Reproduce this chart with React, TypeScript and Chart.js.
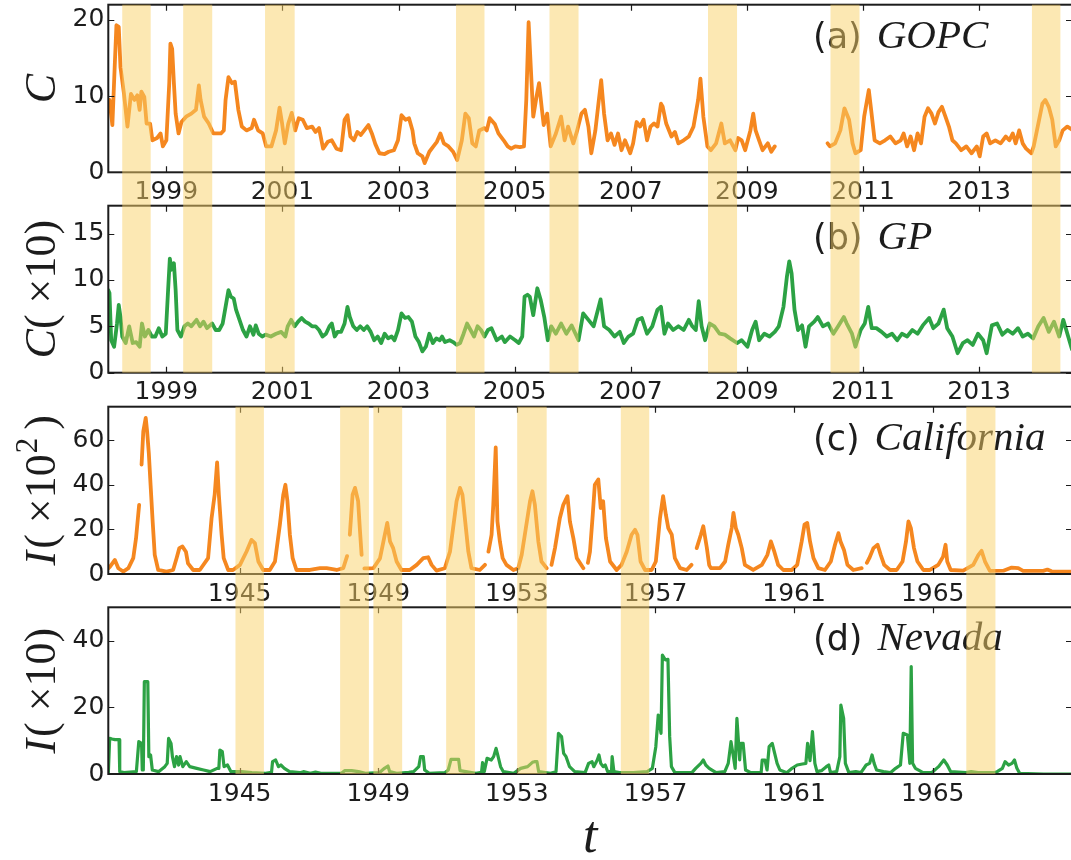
import React, { useEffect, useRef } from "react";
import { Chart, registerables } from "chart.js";

Chart.register(...registerables);

type Pt = [number, number | null];

// (a) GOPC  — C
const gopcSeries: Pt[] = [
  [1998.0, 8.5], [1998.02, 9.5], [1998.07, 6.2], [1998.11, 13.8], [1998.14, 19.3], [1998.18, 19.1], [1998.21, 13.8],
  [1998.27, 10.3], [1998.33, 6.0], [1998.39, 10.3], [1998.45, 9.5], [1998.5, 10.1], [1998.54, 8.2], [1998.57, 10.6],
  [1998.62, 9.9], [1998.66, 6.4], [1998.72, 6.4], [1998.76, 4.2], [1998.84, 4.5], [1998.9, 5.1], [1998.94, 3.4],
  [1999.0, 4.2], [1999.05, 11.7], [1999.07, 16.9], [1999.1, 16.2], [1999.13, 11.7], [1999.16, 7.7], [1999.21, 5.1],
  [1999.26, 6.6], [1999.34, 7.3], [1999.43, 7.7], [1999.51, 8.2], [1999.56, 11.4], [1999.59, 9.5], [1999.65, 7.3],
  [1999.73, 6.4], [1999.81, 5.1], [1999.94, 5.1], [1999.99, 5.5], [2000.02, 9.5], [2000.07, 12.5], [2000.13, 11.7],
  [2000.18, 11.9], [2000.24, 8.2], [2000.3, 6.0], [2000.38, 5.5], [2000.47, 5.8], [2000.51, 6.9], [2000.58, 5.5],
  [2000.66, 5.1], [2000.72, 3.4], [2000.81, 3.4], [2000.89, 5.5], [2000.95, 8.5], [2000.99, 6.6], [2001.04, 3.8],
  [2001.1, 6.4], [2001.16, 7.8], [2001.22, 5.5], [2001.28, 7.1], [2001.35, 6.9], [2001.42, 5.8], [2001.51, 6.0],
  [2001.57, 5.3], [2001.63, 5.8], [2001.7, 3.1], [2001.78, 4.0], [2001.85, 4.2], [2001.93, 3.1], [2002.01, 2.9],
  [2002.07, 6.9], [2002.12, 7.5], [2002.17, 4.7], [2002.23, 4.2], [2002.29, 5.3], [2002.35, 4.9], [2002.41, 5.5],
  [2002.48, 6.2], [2002.54, 5.1], [2002.6, 3.7], [2002.67, 2.5], [2002.76, 2.4], [2002.83, 2.7], [2002.92, 2.9],
  [2002.99, 4.2], [2003.05, 7.5], [2003.12, 6.9], [2003.18, 7.1], [2003.24, 5.5], [2003.27, 3.8], [2003.33, 2.5],
  [2003.41, 2.1], [2003.45, 1.2], [2003.53, 2.7], [2003.6, 3.4], [2003.66, 4.0], [2003.72, 5.1], [2003.78, 3.8],
  [2003.86, 3.4], [2003.94, 2.7], [2004.01, 1.6], [2004.09, 4.2], [2004.15, 7.7], [2004.21, 7.1], [2004.27, 3.8],
  [2004.33, 3.4], [2004.39, 5.5], [2004.48, 5.8], [2004.52, 5.5], [2004.57, 7.1], [2004.66, 6.3], [2004.72, 5.1],
  [2004.81, 4.2], [2004.88, 3.4], [2004.94, 3.1], [2005.01, 3.4], [2005.09, 3.3], [2005.16, 3.4], [2005.2, 9.5],
  [2005.24, 19.7], [2005.28, 13.4], [2005.32, 7.3], [2005.38, 10.1], [2005.42, 11.7], [2005.47, 8.2], [2005.5, 6.2],
  [2005.56, 7.7], [2005.62, 3.4], [2005.71, 5.1], [2005.8, 7.3], [2005.86, 4.2], [2005.92, 6.0], [2006.01, 3.8],
  [2006.07, 5.3], [2006.15, 7.7], [2006.21, 8.2], [2006.27, 6.0], [2006.32, 2.5], [2006.39, 5.5], [2006.45, 9.5],
  [2006.49, 12.1], [2006.54, 7.7], [2006.6, 4.2], [2006.66, 5.1], [2006.72, 3.6], [2006.78, 5.1], [2006.84, 2.9],
  [2006.9, 4.2], [2006.99, 2.5], [2007.04, 3.8], [2007.1, 6.6], [2007.16, 6.0], [2007.22, 6.9], [2007.28, 4.2],
  [2007.34, 6.0], [2007.4, 6.4], [2007.46, 6.0], [2007.52, 9.0], [2007.55, 8.6], [2007.61, 6.4], [2007.7, 4.7],
  [2007.76, 5.3], [2007.82, 3.8], [2007.91, 4.2], [2008.0, 4.7], [2008.08, 6.0], [2008.16, 9.5], [2008.2, 12.3],
  [2008.25, 7.3], [2008.32, 3.4], [2008.38, 2.9], [2008.47, 3.8], [2008.56, 6.4], [2008.62, 3.8], [2008.71, 4.2],
  [2008.8, 2.9], [2008.85, 4.5], [2008.91, 4.2], [2008.97, 2.9], [2009.06, 5.5], [2009.11, 7.7], [2009.15, 5.5],
  [2009.21, 4.2], [2009.27, 2.9], [2009.36, 3.8], [2009.42, 2.7], [2009.48, 3.4], [2009.9, null],
  [2010.39, 3.8], [2010.43, 3.4], [2010.52, 3.8], [2010.61, 5.5], [2010.68, 8.4], [2010.76, 6.9], [2010.82, 3.8],
  [2010.87, 2.5], [2010.96, 2.9], [2011.02, 7.3], [2011.1, 10.8], [2011.14, 8.2], [2011.2, 4.2], [2011.29, 3.8],
  [2011.38, 4.2], [2011.47, 4.7], [2011.56, 3.8], [2011.65, 4.2], [2011.7, 5.1], [2011.76, 3.4], [2011.82, 4.7],
  [2011.88, 2.9], [2011.94, 5.1], [2012.0, 3.8], [2012.06, 7.3], [2012.12, 8.4], [2012.18, 7.7], [2012.24, 6.4],
  [2012.3, 7.9], [2012.36, 8.6], [2012.42, 7.3], [2012.48, 6.0], [2012.54, 4.2], [2012.6, 3.8], [2012.69, 2.9],
  [2012.78, 3.4], [2012.87, 2.5], [2012.96, 3.4], [2013.01, 2.1], [2013.07, 4.7], [2013.13, 5.1], [2013.19, 3.8],
  [2013.28, 4.2], [2013.37, 3.8], [2013.46, 4.7], [2013.52, 4.2], [2013.58, 5.1], [2013.63, 3.8], [2013.69, 5.5],
  [2013.75, 3.8], [2013.81, 3.1], [2013.9, 2.5], [2013.94, 3.4], [2014.02, 6.4], [2014.09, 9.0], [2014.14, 9.5],
  [2014.2, 8.6], [2014.26, 6.9], [2014.32, 3.4], [2014.38, 4.2], [2014.44, 5.5], [2014.52, 6.0], [2014.6, 5.6],
];

// (b) GP — C (x10)
const gpSeries: Pt[] = [
  [1998.0, 8.9], [1998.02, 8.6], [1998.05, 3.5], [1998.1, 2.8], [1998.15, 5.3], [1998.18, 7.3], [1998.21, 6.0],
  [1998.24, 3.9], [1998.3, 3.2], [1998.36, 5.0], [1998.42, 3.2], [1998.48, 3.3], [1998.54, 2.8], [1998.58, 5.3],
  [1998.63, 3.9], [1998.69, 4.6], [1998.75, 3.9], [1998.81, 3.9], [1998.87, 4.8], [1998.93, 3.9], [1998.99, 4.2],
  [1999.03, 8.9], [1999.06, 12.3], [1999.09, 11.1], [1999.13, 11.8], [1999.16, 8.9], [1999.19, 4.6], [1999.25, 3.9],
  [1999.31, 5.0], [1999.37, 5.3], [1999.43, 5.0], [1999.52, 5.7], [1999.58, 5.0], [1999.64, 5.5], [1999.7, 4.8],
  [1999.79, 5.3], [1999.85, 4.6], [1999.91, 4.6], [1999.97, 5.3], [2000.02, 7.1], [2000.07, 8.9], [2000.11, 8.2],
  [2000.16, 8.0], [2000.2, 6.8], [2000.26, 5.7], [2000.32, 4.6], [2000.38, 3.9], [2000.44, 5.0], [2000.5, 4.1],
  [2000.54, 5.1], [2000.59, 4.2], [2000.65, 3.9], [2000.71, 4.1], [2000.8, 3.9], [2000.89, 4.2], [2000.98, 4.4],
  [2001.05, 3.9], [2001.09, 5.0], [2001.15, 5.7], [2001.21, 5.0], [2001.27, 5.5], [2001.33, 5.9], [2001.39, 5.5],
  [2001.45, 5.3], [2001.51, 5.0], [2001.57, 5.0], [2001.63, 4.6], [2001.69, 3.9], [2001.75, 4.2], [2001.81, 5.0],
  [2001.85, 5.3], [2001.9, 3.9], [2001.95, 4.4], [2002.01, 4.4], [2002.07, 5.3], [2002.12, 7.1], [2002.16, 6.0],
  [2002.22, 5.0], [2002.28, 4.6], [2002.34, 5.0], [2002.4, 4.6], [2002.46, 5.0], [2002.52, 4.4], [2002.58, 3.5],
  [2002.64, 3.9], [2002.7, 3.2], [2002.76, 4.2], [2002.82, 3.7], [2002.88, 3.9], [2002.93, 3.5], [2002.99, 4.6],
  [2003.05, 6.4], [2003.11, 5.9], [2003.17, 6.0], [2003.23, 5.5], [2003.29, 3.9], [2003.35, 3.3], [2003.41, 2.3],
  [2003.47, 2.8], [2003.53, 4.2], [2003.59, 3.2], [2003.65, 3.7], [2003.71, 3.5], [2003.75, 3.9], [2003.8, 3.3],
  [2003.88, 3.5], [2003.94, 3.3], [2004.0, 3.0], [2004.06, 3.2], [2004.12, 4.2], [2004.18, 5.3], [2004.24, 4.6],
  [2004.3, 3.9], [2004.36, 5.0], [2004.42, 4.6], [2004.48, 3.9], [2004.54, 4.6], [2004.6, 4.8], [2004.69, 3.5],
  [2004.78, 3.9], [2004.83, 3.3], [2004.92, 3.9], [2005.01, 3.5], [2005.07, 3.2], [2005.13, 3.9], [2005.17, 8.2],
  [2005.22, 8.4], [2005.26, 8.2], [2005.32, 6.2], [2005.39, 9.1], [2005.45, 7.8], [2005.51, 6.0], [2005.57, 3.5],
  [2005.63, 5.0], [2005.71, 4.2], [2005.8, 5.3], [2005.89, 4.2], [2005.98, 5.1], [2006.1, 3.5], [2006.18, 6.4],
  [2006.27, 5.7], [2006.36, 5.0], [2006.48, 7.9], [2006.54, 5.0], [2006.63, 4.6], [2006.72, 3.9], [2006.81, 4.4],
  [2006.88, 3.2], [2006.96, 3.9], [2007.04, 4.2], [2007.12, 5.7], [2007.19, 5.9], [2007.28, 4.2], [2007.37, 5.0],
  [2007.46, 6.8], [2007.52, 7.1], [2007.58, 4.2], [2007.64, 5.3], [2007.73, 4.6], [2007.82, 5.0], [2007.91, 4.6],
  [2008.0, 5.7], [2008.06, 5.0], [2008.12, 4.6], [2008.17, 7.7], [2008.22, 5.0], [2008.28, 3.5], [2008.36, 5.3],
  [2008.44, 5.0], [2008.53, 4.2], [2008.62, 4.1], [2008.71, 3.7], [2008.83, 3.2], [2008.91, 3.5], [2009.01, 2.8],
  [2009.09, 4.6], [2009.15, 5.5], [2009.21, 3.5], [2009.3, 4.2], [2009.39, 3.9], [2009.48, 4.4], [2009.55, 5.0],
  [2009.63, 7.1], [2009.69, 10.4], [2009.73, 12.0], [2009.77, 10.7], [2009.82, 6.8], [2009.88, 4.6], [2009.95, 5.1],
  [2010.01, 2.8], [2010.07, 5.0], [2010.16, 5.5], [2010.22, 6.0], [2010.31, 5.0], [2010.4, 5.3], [2010.49, 4.2],
  [2010.58, 5.1], [2010.67, 6.0], [2010.72, 5.3], [2010.81, 4.2], [2010.87, 2.8], [2010.96, 4.6], [2011.03, 5.3],
  [2011.09, 7.1], [2011.15, 4.8], [2011.23, 4.8], [2011.32, 4.4], [2011.41, 3.9], [2011.5, 4.2], [2011.59, 3.5],
  [2011.67, 4.2], [2011.76, 3.9], [2011.85, 4.6], [2011.94, 4.2], [2012.03, 5.1], [2012.14, 5.9], [2012.21, 4.8],
  [2012.3, 5.3], [2012.39, 6.8], [2012.45, 4.8], [2012.54, 3.9], [2012.63, 2.1], [2012.72, 3.2], [2012.8, 3.5],
  [2012.89, 3.0], [2012.98, 4.2], [2013.07, 3.5], [2013.13, 2.1], [2013.22, 5.1], [2013.31, 5.3], [2013.4, 4.1],
  [2013.49, 4.6], [2013.58, 4.2], [2013.67, 4.8], [2013.75, 3.9], [2013.84, 4.2], [2013.93, 3.7], [2014.02, 5.0],
  [2014.11, 5.9], [2014.2, 4.4], [2014.29, 5.5], [2014.38, 3.9], [2014.45, 5.7], [2014.52, 4.2], [2014.6, 2.5],
];

// (c) California — I (x10^2)
const californiaSeries: Pt[] = [
  [1941.21, 2.5], [1941.26, 3.3], [1941.4, 6.3], [1941.5, 2.6], [1941.64, 1.1], [1941.79, 2.6], [1941.93, 7.1],
  [1942.01, 16], [1942.1, 31], [1942.13, null], [1942.17, 49], [1942.22, 64], [1942.29, 70], [1942.33, 64],
  [1942.38, 54], [1942.43, 40], [1942.49, 23.6], [1942.55, 8.6], [1942.65, 1.8], [1942.89, 1.1], [1943.08, 1.8],
  [1943.18, 7.1], [1943.26, 11.6], [1943.35, 12.3], [1943.45, 10], [1943.51, 4.8], [1943.66, 1.8], [1943.85, 1.8],
  [1944.09, 7.1], [1944.19, 25], [1944.28, 35.6], [1944.35, 50], [1944.4, 35.6], [1944.48, 17.6], [1944.54, 7.1],
  [1944.67, 1.8], [1944.81, 1.8], [1945.01, 4.1], [1945.2, 10.1], [1945.34, 15.3], [1945.44, 13.8], [1945.54, 5.6],
  [1945.68, 1.8], [1945.87, 1.8], [1946.02, 5.6], [1946.16, 22], [1946.26, 35.6], [1946.32, 40], [1946.38, 32.6],
  [1946.45, 17.6], [1946.53, 7.1], [1946.64, 1.8], [1947.03, 1.8], [1947.32, 2.6], [1947.51, 2.6], [1947.8, 1.8],
  [1947.99, 2.6], [1948.1, 8], [1948.14, null], [1948.18, 17.6], [1948.26, 35.6], [1948.33, 38.6], [1948.42, 32.6],
  [1948.47, 20], [1948.52, 8.6], [1948.55, null], [1948.6, 2.5], [1948.76, 2.5], [1948.86, 2.6], [1949.05, 7],
  [1949.19, 17.6], [1949.26, 22.9], [1949.34, 14.6], [1949.43, 11.6], [1949.53, 5.6], [1949.67, 1.8], [1949.91, 1.8],
  [1950.11, 4.1], [1950.3, 7.1], [1950.44, 7.5], [1950.54, 4.1], [1950.68, 1.5], [1950.92, 2.6], [1951.07, 10],
  [1951.16, 20.6], [1951.26, 32.6], [1951.36, 38.6], [1951.43, 35.6], [1951.5, 25], [1951.6, 10], [1951.69, 2.6],
  [1951.93, 1.8], [1952.08, 4.1], [1952.12, null], [1952.18, 10], [1952.27, 17.6], [1952.32, 31], [1952.39, 56.7],
  [1952.44, 23.6], [1952.51, 14.6], [1952.59, 7.1], [1952.7, 4.1], [1952.9, 1.8], [1953.04, 2.6], [1953.14, 8.6],
  [1953.26, 20.6], [1953.38, 32.6], [1953.45, 37.1], [1953.52, 31], [1953.62, 14.6], [1953.71, 5.6], [1953.86, 2.6],
  [1953.92, null], [1954.0, 4.1], [1954.1, 11.6], [1954.24, 25], [1954.34, 31], [1954.46, 34.9], [1954.53, 23.6],
  [1954.63, 16.1], [1954.73, 7.1], [1954.92, 2.6], [1954.98, null], [1955.05, 5], [1955.11, 10], [1955.19, 26.6],
  [1955.25, 40], [1955.35, 42.4], [1955.42, 29.6], [1955.49, 32.6], [1955.57, 16.1], [1955.69, 5.6], [1955.88, 1.8],
  [1956.02, 4.1], [1956.17, 10], [1956.31, 17.6], [1956.41, 19.8], [1956.48, 17.6], [1956.57, 5.6], [1956.7, 1.8],
  [1956.89, 1.8], [1957.01, 5.6], [1957.13, 25], [1957.22, 34.9], [1957.3, 26.6], [1957.37, 20.6], [1957.47, 17.6],
  [1957.56, 7.1], [1957.71, 2.6], [1957.9, 1.8], [1958.04, 4.1], [1958.1, null], [1958.19, 11.6], [1958.31, 17.6],
  [1958.38, 21.4], [1958.48, 12], [1958.55, 4], [1958.6, 2.6], [1958.86, 2.6], [1959.01, 5.6], [1959.1, 13.1],
  [1959.2, 20.6], [1959.25, 27.4], [1959.32, 20.6], [1959.39, 17.6], [1959.49, 11.6], [1959.58, 4.1], [1959.82, 1.8],
  [1960.07, 4.1], [1960.23, 8.6], [1960.33, 14.6], [1960.43, 10], [1960.54, 4.1], [1960.69, 1.8], [1960.93, 1.8],
  [1961.09, 4.1], [1961.22, 14.6], [1961.3, 22.1], [1961.38, 22.9], [1961.46, 14.6], [1961.56, 7.1], [1961.7, 2.6],
  [1961.89, 1.8], [1962.06, 5.6], [1962.18, 13.1], [1962.28, 18.3], [1962.34, 14.6], [1962.44, 10.8], [1962.54, 4.1],
  [1962.71, 1.8], [1962.95, 2.6], [1963.03, null], [1963.1, 5], [1963.17, 7.1], [1963.29, 11.6], [1963.41, 13.1],
  [1963.5, 8.6], [1963.6, 4.1], [1963.77, 1.8], [1963.96, 1.8], [1964.13, 5.6], [1964.23, 14.6], [1964.3, 23.6],
  [1964.37, 20.6], [1964.46, 11.6], [1964.56, 5.6], [1964.73, 1.8], [1964.92, 1.8], [1965.16, 4.1], [1965.3, 7.8],
  [1965.37, 13.1], [1965.42, 5.6], [1965.52, 1.8], [1965.88, 1.5], [1966.17, 4.1], [1966.32, 8.6], [1966.41, 10.4],
  [1966.51, 5.6], [1966.65, 1.4], [1967.04, 1.5], [1967.28, 2.9], [1967.47, 2.6], [1967.61, 1.4], [1968.19, 1.4],
  [1968.31, 2.0], [1968.43, 1.2], [1969.02, 1.0],
];

// (d) Nevada — I (x10)
const nevadaSeries: Pt[] = [
  [1941.21, 0], [1941.25, 10.7], [1941.32, 10.5], [1941.4, 10.3], [1941.52, 10.3], [1941.54, 0.7], [1941.66, 0.4],
  [1942.02, 0.7], [1942.09, 9.7], [1942.17, 9.2], [1942.19, 1.2], [1942.22, 1.2], [1942.25, 27.7], [1942.35, 27.7],
  [1942.38, 5.2], [1942.43, 5.7], [1942.48, 1.2], [1942.66, 0.7], [1942.84, 2.2], [1942.91, 3.2], [1942.95, 10.7],
  [1943.02, 9.2], [1943.06, 5.2], [1943.12, 2.2], [1943.18, 5.2], [1943.24, 2.7], [1943.28, 5.2], [1943.36, 2.2],
  [1943.46, 3.7], [1943.56, 2.2], [1943.76, 1.7], [1943.96, 1.2], [1944.15, 0.7], [1944.35, 1.7], [1944.4, 1.7],
  [1944.43, 7.2], [1944.5, 6.7], [1944.55, 2.2], [1944.65, 2.7], [1944.75, 0.7], [1945.05, 0.7], [1945.35, 0.4],
  [1945.75, 0.2], [1945.92, 0.5], [1945.95, 3.7], [1946.04, 4.2], [1946.12, 2.2], [1946.19, 2.7], [1946.29, 1.7],
  [1946.44, 0.7], [1946.74, 0.4], [1946.84, 0.7], [1947.04, 0.2], [1947.19, 0.6], [1947.34, 0.2], [1947.94, 0.2],
  [1948.03, 1.0], [1948.23, 1.0], [1948.43, 0.7], [1948.63, 0.2], [1949.03, 0.4], [1949.18, 1.7], [1949.28, 2.4],
  [1949.33, 0.7], [1949.53, 0.2], [1949.88, 0.5], [1950.02, 0.7], [1950.17, 2.2], [1950.22, 5.2], [1950.3, 5.2],
  [1950.34, 1.2], [1950.47, 0.2], [1950.92, 0.4], [1951.02, 1.2], [1951.1, 4.4], [1951.32, 4.4], [1951.36, 1.0],
  [1951.82, 0.2], [1951.98, 0.5], [1952.01, 3.4], [1952.06, 0.7], [1952.14, 4.7], [1952.26, 4.2], [1952.33, 5.2],
  [1952.4, 7.7], [1952.46, 5.2], [1952.53, 2.2], [1952.61, 0.7], [1952.91, 0.2], [1953.11, 1.7], [1953.31, 2.2],
  [1953.45, 3.5], [1953.51, 3.7], [1953.58, 3.7], [1953.63, 0.7], [1953.97, 0.2], [1954.13, 0.7], [1954.2, 12.2],
  [1954.29, 11.2], [1954.35, 6.2], [1954.42, 5.2], [1954.52, 2.2], [1954.67, 0.7], [1954.97, 0.4], [1955.07, 3.2],
  [1955.17, 3.7], [1955.22, 2.2], [1955.32, 4.2], [1955.37, 5.7], [1955.42, 3.2], [1955.49, 2.2], [1955.55, 2.7],
  [1955.62, 0.7], [1955.73, 0.7], [1955.75, 5.2], [1955.8, 0.7], [1955.96, 0.4], [1956.36, 0.4], [1956.76, 0.7],
  [1956.91, 1.7], [1957.01, 8.2], [1957.08, 17.7], [1957.16, 12.2], [1957.2, 35.7], [1957.29, 34.2], [1957.36, 34.4],
  [1957.41, 11.2], [1957.46, 2.2], [1957.56, 0.4], [1958.05, 0.4], [1958.16, 1.7], [1958.31, 3.2], [1958.38, 4.2],
  [1958.45, 2.7], [1958.55, 1.7], [1958.75, 0.4], [1959.0, 0.7], [1959.1, 3.2], [1959.18, 9.7], [1959.25, 5.2],
  [1959.3, 1.7], [1959.35, 16.7], [1959.43, 4.2], [1959.46, 9.2], [1959.53, 9.2], [1959.6, 1.2], [1959.75, 0.4],
  [1960.05, 0.4], [1960.08, 4.2], [1960.16, 4.2], [1960.22, 1.2], [1960.28, 8.2], [1960.37, 9.2], [1960.44, 6.2],
  [1960.51, 3.2], [1960.59, 1.2], [1960.79, 0.4], [1960.94, 1.7], [1961.09, 2.7], [1961.24, 3.0], [1961.34, 3.2],
  [1961.39, 9.2], [1961.46, 4.0], [1961.53, 12.7], [1961.6, 3.2], [1961.66, 0.7], [1961.79, 1.0], [1961.93, 2.2],
  [1962.0, 2.7], [1962.05, 0.4], [1962.23, 0.7], [1962.32, 5.2], [1962.35, 20.7], [1962.43, 16.7], [1962.48, 3.2],
  [1962.58, 0.4], [1962.78, 0.7], [1962.93, 0.4], [1963.08, 2.7], [1963.18, 3.2], [1963.25, 5.7], [1963.31, 3.2],
  [1963.38, 1.2], [1963.58, 0.7], [1963.78, 0.4], [1963.93, 1.7], [1964.07, 2.7], [1964.15, 12.2], [1964.27, 11.7],
  [1964.34, 3.2], [1964.38, 32.2], [1964.42, 3.2], [1964.5, 1.7], [1964.62, 1.0], [1964.72, 0.4], [1964.97, 0.4],
  [1965.17, 2.2], [1965.32, 4.2], [1965.42, 2.7], [1965.52, 0.7], [1965.96, 0.4], [1966.11, 0.7], [1966.31, 0.4],
  [1966.76, 0.4], [1966.86, 0.7], [1967.01, 1.7], [1967.09, 3.7], [1967.19, 2.7], [1967.29, 3.2], [1967.36, 4.2],
  [1967.43, 1.7], [1967.51, 0.2], [1968.2, 0], [1969.02, 0],
];

const modernBands: [number, number][] = [
  [1998.24, 1998.73], [1999.29, 1999.79], [2000.7, 2001.21], [2003.99, 2004.48],
  [2005.6, 2006.1], [2008.33, 2008.83], [2010.44, 2010.94], [2013.91, 2014.4],
];
const historicBands: [number, number][] = [
  [1944.88, 1945.7], [1947.9, 1948.73], [1948.86, 1949.69], [1950.96, 1951.79],
  [1953.01, 1953.86], [1956.0, 1956.82], [1965.97, 1966.81],
];

const modernYearTicks = [1999, 2001, 2003, 2005, 2007, 2009, 2011, 2013];
const historicYearTicks = [1945, 1949, 1953, 1957, 1961, 1965];
const gopcYTicks = [0, 10, 20];
const gpYTicks = [0, 5, 10, 15];
const californiaYTicks = [0, 20, 40, 60];
const nevadaYTicks = [0, 20, 40];
const modernRange: [number, number] = [1998.0, 2014.6];
const historicRange: [number, number] = [1941.21, 1969.02];

const ORANGE = "#f5871f";
const GREEN = "#2ca244";
const BAND = "rgba(249,210,104,0.5)";
const INK = "#1c1c1c";
const SANS = '"DejaVu Sans", sans-serif';
const SERIF = '"Liberation Serif", serif';

type Part = { t: string; f: string; dy?: number; gap?: number };

function drawRich(ctx: CanvasRenderingContext2D, parts: Part[], x: number, y: number, rotate: boolean, center: boolean) {
  ctx.save();
  ctx.translate(x, y);
  if (rotate) ctx.rotate(-Math.PI / 2);
  ctx.fillStyle = INK;
  ctx.textBaseline = "alphabetic";
  ctx.textAlign = "left";
  let total = 0;
  parts.forEach((p) => {
    ctx.font = p.f;
    total += ctx.measureText(p.t).width + (p.gap || 0);
  });
  let cx = center ? -total / 2 : 0;
  parts.forEach((p) => {
    ctx.font = p.f;
    ctx.fillText(p.t, cx, p.dy || 0);
    cx += ctx.measureText(p.t).width + (p.gap || 0);
  });
  ctx.restore();
}

type PanelCfg = {
  top: number;
  height: number;
  padTop: number;
  xAxisHeight: number;
  series: Pt[];
  color: string;
  lineWidth: number;
  range: [number, number];
  xTicks: number[];
  yTicks: number[];
  yMax: number;
  bands: [number, number][];
  bandFromCanvasTop: boolean;
  bandToCanvasBottom: boolean;
  label: Part[];
  labelBaseline: number;
  yTitle: Part[];
  xTitle?: Part[];
};

const TITLE = 44;
const panels: PanelCfg[] = [
  {
    top: 0, height: 203, padTop: 4.7, xAxisHeight: 30.7,
    series: gopcSeries, color: ORANGE, lineWidth: 3.8,
    range: modernRange, xTicks: modernYearTicks, yTicks: gopcYTicks, yMax: 22,
    bands: modernBands, bandFromCanvasTop: false, bandToCanvasBottom: true,
    label: [{ t: "(a)", f: `35px ${SANS}`, gap: 15 }, { t: "GOPC", f: `italic 41px ${SERIF}` }],
    labelBaseline: 48,
    yTitle: [{ t: "C", f: `italic ${TITLE}px ${SERIF}` }],
  },
  {
    top: 203, height: 198, padTop: 2.7, xAxisHeight: 28.3,
    series: gpSeries, color: GREEN, lineWidth: 3.8,
    range: modernRange, xTicks: modernYearTicks, yTicks: gpYTicks, yMax: 18,
    bands: modernBands, bandFromCanvasTop: true, bandToCanvasBottom: false,
    label: [{ t: "(b)", f: `35px ${SANS}`, gap: 15 }, { t: "GP", f: `italic 41px ${SERIF}` }],
    labelBaseline: 249,
    yTitle: [
      { t: "C", f: `italic ${TITLE}px ${SERIF}` },
      { t: "(", f: `${TITLE}px ${SERIF}`, gap: 11 },
      { t: "×10", f: `${TITLE}px ${SERIF}` },
      { t: ")", f: `${TITLE}px ${SERIF}` },
    ],
  },
  {
    top: 401, height: 203, padTop: 5.7, xAxisHeight: 30,
    series: californiaSeries, color: ORANGE, lineWidth: 3.8,
    range: historicRange, xTicks: historicYearTicks, yTicks: californiaYTicks, yMax: 75,
    bands: historicBands, bandFromCanvasTop: false, bandToCanvasBottom: true,
    label: [{ t: "(c)", f: `35px ${SANS}`, gap: 15 }, { t: "California", f: `italic 41px ${SERIF}` }],
    labelBaseline: 450,
    yTitle: [
      { t: "I", f: `italic ${TITLE}px ${SERIF}`, gap: 2 },
      { t: "(", f: `${TITLE}px ${SERIF}`, gap: 11 },
      { t: "×10", f: `${TITLE}px ${SERIF}`, gap: 1 },
      { t: "2", f: `31px ${SERIF}`, dy: -18, gap: 8 },
      { t: ")", f: `${TITLE}px ${SERIF}` },
    ],
  },
  {
    top: 604, height: 256, padTop: 3.3, xAxisHeight: 86,
    series: nevadaSeries, color: GREEN, lineWidth: 3.2,
    range: historicRange, xTicks: historicYearTicks, yTicks: nevadaYTicks, yMax: 50,
    bands: historicBands, bandFromCanvasTop: true, bandToCanvasBottom: false,
    label: [{ t: "(d)", f: `35px ${SANS}`, gap: 15 }, { t: "Nevada", f: `italic 41px ${SERIF}` }],
    labelBaseline: 650,
    yTitle: [
      { t: "I", f: `italic ${TITLE}px ${SERIF}`, gap: 2 },
      { t: "(", f: `${TITLE}px ${SERIF}`, gap: 11 },
      { t: "×10", f: `${TITLE}px ${SERIF}` },
      { t: ")", f: `${TITLE}px ${SERIF}` },
    ],
    xTitle: [{ t: "t", f: `italic 52px ${SERIF}` }],
  },
];

const CANVAS_W = 1074;
const PLOT_LEFT = 108.3;
const TICK = 6;

function makeDecor(cfg: PanelCfg) {
  return {
    id: "decor",
    afterDraw(chart: any) {
      const { ctx, chartArea: a, scales } = chart;
      const xs = scales.x;
      const ys = scales.y;
      ctx.save();
      ctx.strokeStyle = INK;
      ctx.lineWidth = 1.2;
      ctx.beginPath();
      xs.ticks.forEach((t: any) => {
        const px = Math.round(xs.getPixelForValue(t.value)) + 0.5;
        ctx.moveTo(px, a.bottom);
        ctx.lineTo(px, a.bottom - TICK);
        ctx.moveTo(px, a.top);
        ctx.lineTo(px, a.top + TICK);
      });
      ys.ticks.forEach((t: any) => {
        const py = Math.round(ys.getPixelForValue(t.value)) + 0.5;
        ctx.moveTo(a.left, py);
        ctx.lineTo(a.left + TICK, py);
        ctx.moveTo(a.right, py);
        ctx.lineTo(a.right - TICK, py);
      });
      ctx.stroke();
      ctx.lineWidth = 2;
      ctx.strokeRect(a.left, a.top, a.right - a.left, a.bottom - a.top);

      drawRich(ctx, cfg.label, 813, cfg.labelBaseline - cfg.top, false, false);
      drawRich(ctx, cfg.yTitle, 55, (a.top + a.bottom) / 2, true, true);
      if (cfg.xTitle) drawRich(ctx, cfg.xTitle, (a.left + a.right) / 2, 852 - cfg.top, false, true);

      ctx.fillStyle = BAND;
      const y0 = cfg.bandFromCanvasTop ? 0 : a.top;
      const y1 = cfg.bandToCanvasBottom ? chart.height : a.bottom;
      cfg.bands.forEach(([s, e]) => {
        const x0 = xs.getPixelForValue(s);
        const x1 = xs.getPixelForValue(e);
        ctx.fillRect(x0, y0, x1 - x0, y1 - y0);
      });
      ctx.restore();
    },
  };
}

function buildConfig(cfg: PanelCfg): any {
  return {
    type: "line",
    data: {
      datasets: [
        {
          data: cfg.series.map(([x, y]) => ({ x, y })),
          borderColor: cfg.color,
          borderWidth: cfg.lineWidth,
          pointRadius: 0,
          fill: false,
          tension: 0,
          spanGaps: false,
          borderJoinStyle: "round",
          borderCapStyle: "round",
        },
      ],
    },
    options: {
      animation: false,
      responsive: false,
      events: [],
      layout: { padding: { top: cfg.padTop, left: 0, right: CANVAS_W - 1072, bottom: 0 } },
      plugins: { legend: { display: false }, tooltip: { enabled: false } },
      scales: {
        x: {
          type: "linear",
          min: cfg.range[0],
          max: cfg.range[1],
          grid: { display: false, drawTicks: false, tickLength: 0 },
          border: { display: false },
          ticks: {
            autoSkip: false,
            maxRotation: 0,
            padding: 5,
            color: INK,
            font: { family: SANS, size: 25 },
            callback: (v: any) => String(v),
          },
          afterBuildTicks: (s: any) => {
            s.ticks = cfg.xTicks.map((v) => ({ value: v }));
          },
          afterFit: (s: any) => {
            s.height = cfg.xAxisHeight;
            s.paddingLeft = 0;
            s.paddingRight = 0;
            s.paddingTop = 0;
            s.paddingBottom = 0;
          },
        },
        y: {
          type: "linear",
          min: 0,
          max: cfg.yMax,
          grid: { display: false, drawTicks: false, tickLength: 0 },
          border: { display: false },
          ticks: {
            padding: 4,
            color: INK,
            font: { family: SANS, size: 25 },
            callback: (v: any) => String(v),
          },
          afterBuildTicks: (s: any) => {
            s.ticks = cfg.yTicks.map((v) => ({ value: v }));
          },
          afterFit: (s: any) => {
            s.width = PLOT_LEFT;
            s.paddingLeft = 0;
            s.paddingRight = 0;
            s.paddingTop = 0;
            s.paddingBottom = 0;
          },
        },
      },
    },
    plugins: [makeDecor(cfg)],
  };
}

function Panel({ cfg }: { cfg: PanelCfg }) {
  const ref = useRef<HTMLCanvasElement>(null);
  useEffect(() => {
    if (!ref.current) return;
    const chart = new Chart(ref.current, buildConfig(cfg));
    return () => chart.destroy();
  }, [cfg]);
  return (
    <canvas
      ref={ref}
      width={CANVAS_W}
      height={cfg.height}
      style={{ position: "absolute", left: 0, top: cfg.top, width: CANVAS_W, height: cfg.height, display: "block" }}
    />
  );
}

export default function App() {
  return (
    <div
      style={{
        position: "absolute",
        left: 0,
        top: 0,
        width: 1071,
        height: 860,
        overflow: "hidden",
        background: "#ffffff",
      }}
    >
      {panels.map((p, i) => (
        <Panel key={i} cfg={p} />
      ))}
    </div>
  );
}
